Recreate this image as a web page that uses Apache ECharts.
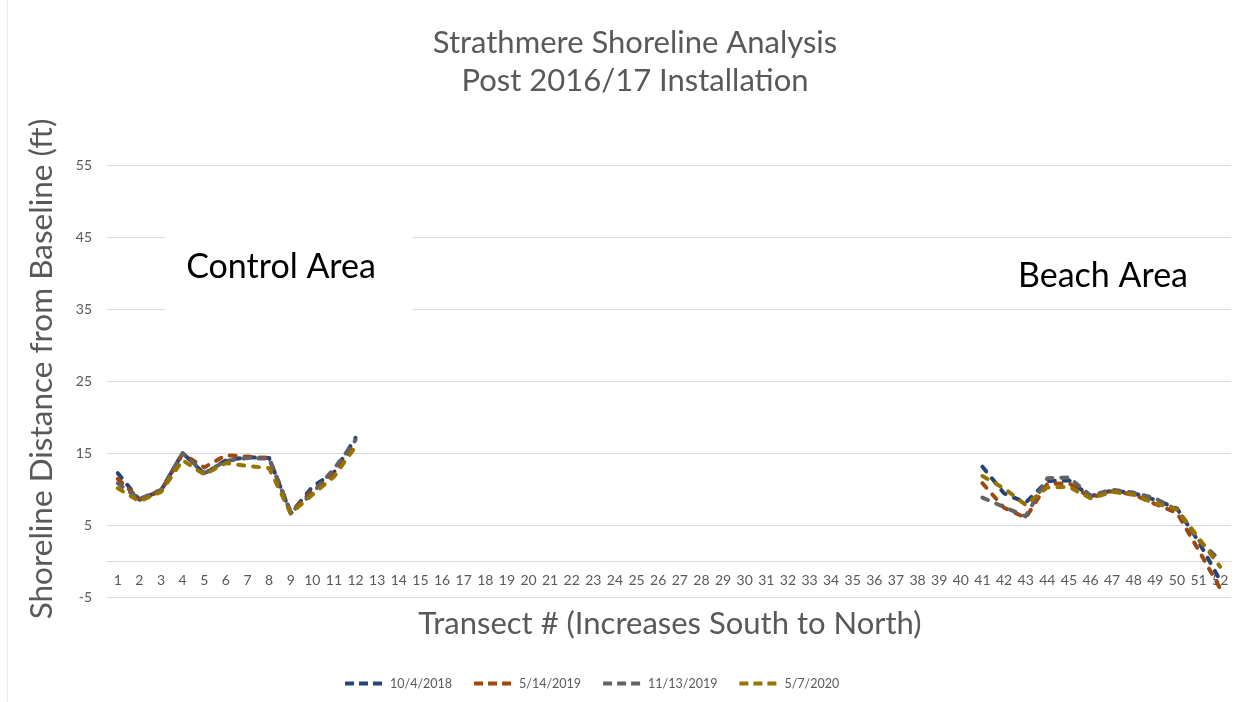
<!DOCTYPE html>
<html>
<head>
<meta charset="utf-8">
<title>Strathmere Shoreline Analysis</title>
<script src="https://cdn.jsdelivr.net/npm/echarts@6/dist/echarts.min.js"></script>
<style>
  html, body { margin: 0; padding: 0; background: #ffffff; }
  #chart { width: 1250px; height: 702px; }
</style>
</head>
<body>
<div id="chart"></div>
<script>
// Transect numbers along the shoreline (south to north)
const transects = Array.from({ length: 52 }, (_, i) => String(i + 1));

// Survey dates
const surveyDates = ['10/4/2018', '5/14/2019', '11/13/2019', '5/7/2020'];

// Control area, transects 1-12 (ft from baseline)
const control_2018_10 = [12.2, 8.5, 9.8, 15.0, 12.1, 14.0, 14.4, 14.3, 6.6, 10.3, 12.3, 17.1];
const control_2019_05 = [11.4, 8.6, 9.7, 14.9, 13.0, 14.7, 14.5, 14.3, 6.8, 9.8, 12.0, 16.4];
const control_2019_11 = [10.8, 8.6, 9.9, 15.0, 12.2, 13.9, 14.3, 14.2, 6.7, 9.4, 12.8, 16.8];
const control_2020_05 = [10.1, 8.3, 9.6, 14.0, 12.0, 13.6, 13.2, 12.9, 6.6, 9.2, 11.7, 15.9];

// Beach area, transects 41-52 (ft from baseline)
const beach_2018_10 = [13.1, 9.4, 8.1, 11.1, 11.2, 9.0, 9.8, 9.4, 8.5, 7.3, 2.7, -2.7];
const beach_2019_05 = [10.8, 7.4, 6.0, 10.7, 10.8, 8.8, 9.7, 9.2, 7.9, 6.7, 1.5, -3.8];
const beach_2019_11 = [8.8, 7.5, 6.2, 11.5, 11.6, 9.1, 9.9, 9.5, 8.7, 7.1, 2.9, 0.1];
const beach_2020_05 = [11.8, 10.1, 7.8, 10.2, 10.3, 8.7, 9.6, 9.2, 8.0, 7.2, 3.2, -0.8];

// Y tick labels (gridlines every 10 ft starting at -5)
const yTickLabels = ['-5', '5', '15', '25', '35', '45', '55'];

const seriesColors = ['#264478', '#9E480E', '#636363', '#997300'];

// Transects 13-40 were not surveyed
const gapLength = 40 - 12;
function fullRun(control, beach) {
  return control.concat(new Array(gapLength).fill(null), beach);
}
const runs = [
  fullRun(control_2018_10, beach_2018_10),
  fullRun(control_2019_05, beach_2019_05),
  fullRun(control_2019_11, beach_2019_11),
  fullRun(control_2020_05, beach_2020_05)
];

const FONT = 'Lato, "Open Sans", sans-serif';
const GREY_TEXT = '#595959';

// plot area geometry
const GRID_TOP = 165;
const GRID_BOTTOM = 105;
const GRID_HEIGHT = 702 - GRID_TOP - GRID_BOTTOM;
const Y_MIN = -5, Y_MAX = 55;
// shift the category axis up so it sits on the zero line
const zeroOffset = -GRID_HEIGHT * (0 - Y_MIN) / (Y_MAX - Y_MIN);

// three short dashes for the legend keys
const dashIcon = 'path://M0,0h9v4h-9zM14,0h9v4h-9zM28,0h9v4h-9z';

const chart = echarts.init(document.getElementById('chart'), null, { renderer: 'canvas' });

chart.setOption({
  backgroundColor: '#ffffff',
  animation: false,
  title: {
    text: 'Strathmere Shoreline Analysis\nPost 2016/17 Installation',
    left: 630,
    textAlign: 'center',
    top: 19,
    textStyle: { fontFamily: FONT, fontSize: 31, fontWeight: 'normal', color: GREY_TEXT, lineHeight: 38 }
  },
  legend: {
    data: surveyDates.map((d) => ({ name: d, icon: dashIcon })),
    top: 672,
    left: 340,
    itemWidth: 37,
    itemHeight: 4,
    itemGap: 22,
    itemStyle: { borderWidth: 0 },
    textStyle: { fontFamily: FONT, fontSize: 12.5, color: GREY_TEXT, padding: [0, 0, 0, 3] }
  },
  grid: { left: 107, right: 19, top: GRID_TOP, bottom: GRID_BOTTOM, containLabel: false },
  xAxis: {
    type: 'category',
    data: transects,
    boundaryGap: true,
    position: 'bottom',
    offset: zeroOffset,
    axisLine: { show: true, onZero: false, lineStyle: { color: '#d9d9d9', width: 1 } },
    axisTick: { show: false },
    axisLabel: { interval: 0, margin: 12, fontFamily: FONT, fontSize: 14, color: GREY_TEXT },
    splitLine: { show: false }
  },
  yAxis: [
    {
      // data scale
      type: 'value',
      min: Y_MIN,
      max: Y_MAX,
      axisLine: { show: false },
      axisTick: { show: false },
      axisLabel: { show: false },
      splitLine: { show: false }
    },
    {
      // gridlines and labels at -5, 5, ..., 55
      type: 'value',
      position: 'left',
      min: 0,
      max: 60,
      interval: 10,
      axisLine: { show: false },
      axisTick: { show: false },
      axisLabel: {
        margin: 15,
        fontFamily: FONT,
        fontSize: 14,
        color: GREY_TEXT,
        formatter: (v) => yTickLabels[Math.round(v / 10)]
      },
      splitLine: { show: true, lineStyle: { color: '#d9d9d9', width: 1 } }
    }
  ],
  series: surveyDates.map((name, i) => ({
    name: name,
    type: 'line',
    yAxisIndex: 0,
    data: runs[i],
    connectNulls: false,
    showSymbol: false,
    symbol: 'none',
    color: seriesColors[i],
    itemStyle: { color: seriesColors[i] },
    lineStyle: { color: seriesColors[i], width: 4, type: [6, 9], cap: 'round', join: 'round' },
    z: 3 + i
  })),
  graphic: [
    {
      // faint chart frame edge on the left
      type: 'line',
      shape: { x1: 7.5, y1: 0, x2: 7.5, y2: 702 },
      style: { stroke: '#ececec', lineWidth: 1 }
    },
    {
      type: 'text',
      x: 42,
      y: 369,
      rotation: Math.PI / 2,
      style: {
        text: 'Shoreline Distance from Baseline (ft)',
        font: '31.5px ' + FONT,
        fill: GREY_TEXT,
        textAlign: 'center',
        textVerticalAlign: 'middle'
      }
    },
    {
      type: 'text',
      x: 670,
      y: 624,
      style: {
        text: 'Transect # (Increases South to North)',
        font: '31px ' + FONT,
        fill: GREY_TEXT,
        textAlign: 'center',
        textVerticalAlign: 'middle'
      }
    },
    {
      type: 'rect',
      shape: { x: 165, y: 222, width: 248, height: 88 },
      style: { fill: '#ffffff' },
      z: 10
    },
    {
      type: 'text',
      x: 281,
      y: 267,
      z: 11,
      style: {
        text: 'Control Area',
        font: '34px ' + FONT,
        fill: '#000000',
        textAlign: 'center',
        textVerticalAlign: 'middle'
      }
    },
    {
      type: 'text',
      x: 1103,
      y: 276,
      z: 11,
      style: {
        text: 'Beach Area',
        font: '34px ' + FONT,
        fill: '#000000',
        textAlign: 'center',
        textVerticalAlign: 'middle'
      }
    }
  ]
});
</script>
</body>
</html>
